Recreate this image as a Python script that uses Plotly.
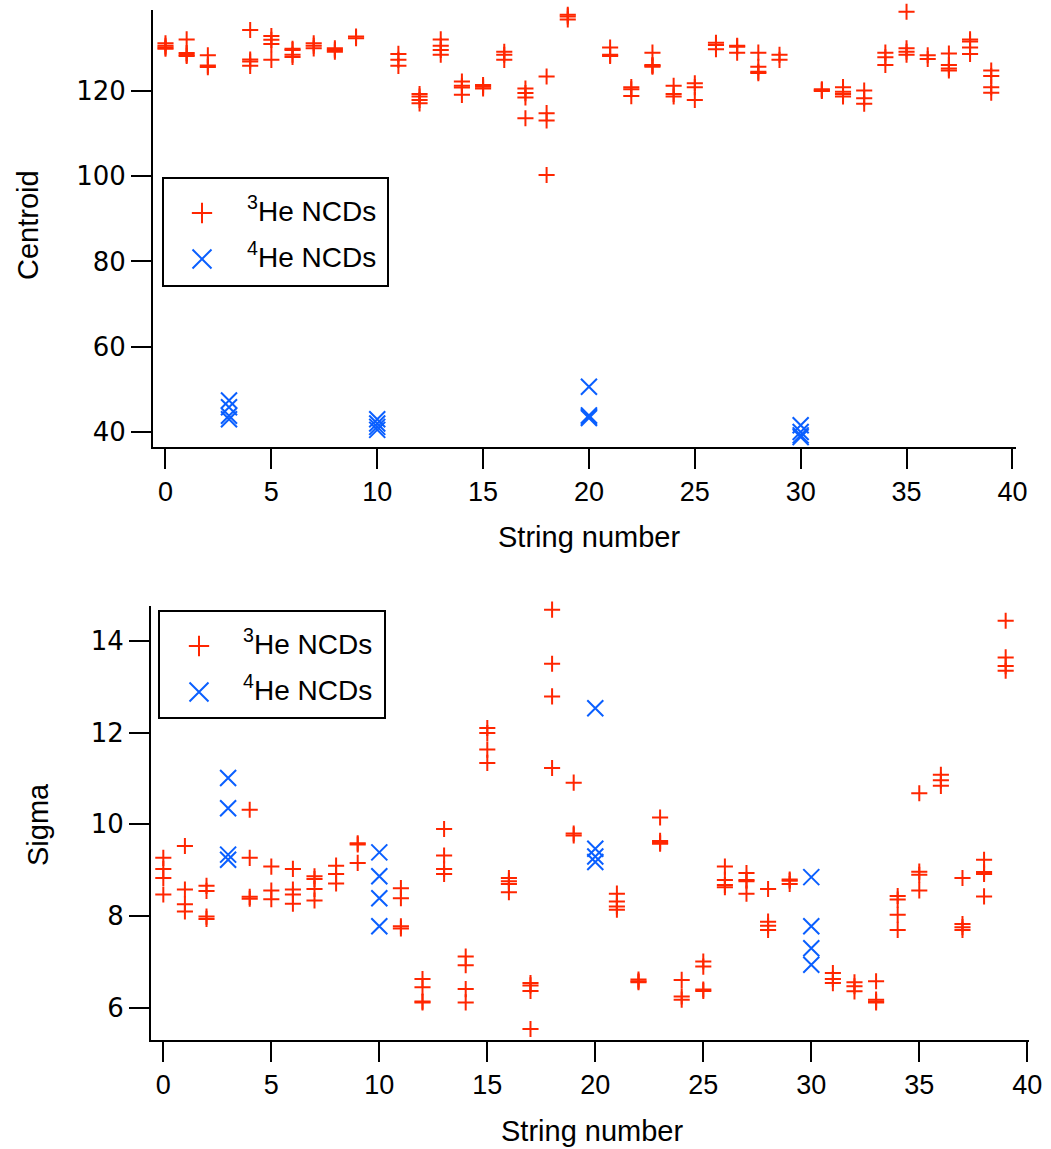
import plotly.graph_objects as go

W, H = 1051, 1149

# Strings that carry 4He counters (no 3He entries there)
he4_strings = [3, 10, 20, 30]

# Peak centroid per string, one value per counter (3He strings)
centroid_he3 = [
    [131.2, 130.6, 130.2, 129.9],
    [132.1, 128.9, 128.5, 128.2],
    [128.4, 126.0, 125.6],
    [],
    [134.3, 127.4, 126.9, 125.9],
    [132.9, 132.0, 131.0, 127.3],
    [129.9, 129.6, 128.5, 128.0],
    [131.2, 130.6, 130.0],
    [130.0, 129.6, 129.2],
    [132.8, 132.4],
    [],
    [128.7, 127.3, 125.9],
    [119.3, 118.7, 117.9, 117.1],
    [132.1, 130.6, 129.6, 128.5],
    [122.2, 121.2, 120.8, 119.1],
    [121.4, 121.0, 120.6],
    [129.2, 128.5, 127.3],
    [120.6, 119.5, 118.5, 113.6],
    [123.4, 114.8, 113.1, 100.3],
    [137.9, 137.5, 136.8],
    [],
    [130.2, 128.5, 128.2],
    [120.9, 120.4, 118.8],
    [129.0, 126.1, 125.9, 125.7],
    [121.2, 119.3, 118.7],
    [121.8, 120.9, 117.9],
    [131.3, 130.8, 129.8],
    [130.6, 130.4, 129.0],
    [129.0, 125.7, 124.5, 124.2],
    [128.5, 127.3],
    [],
    [120.4, 120.2, 120.0],
    [120.9, 119.8, 119.3, 118.7],
    [120.1, 118.3, 117.0],
    [129.0, 127.9, 126.1],
    [138.6, 130.0, 129.2, 128.5],
    [128.4, 127.5],
    [128.8, 126.1, 125.3, 124.8],
    [132.1, 131.6, 130.2, 128.7],
    [124.8, 123.5, 120.9, 119.6],
]

# Peak centroid for the 4He strings, same order as he4_strings
centroid_he4 = [
    [47.4, 45.8, 43.8, 43.0],
    [43.0, 42.0, 41.2, 40.5],
    [50.6, 43.9, 43.6, 43.3],
    [41.6, 40.0, 39.2, 38.8],
]

# Peak width per string, one value per counter (3He strings)
sigma_he3 = [
    [9.27, 9.03, 8.83, 8.47],
    [9.53, 8.58, 8.26, 8.10],
    [8.66, 8.55, 7.99, 7.94],
    [],
    [10.32, 9.27, 8.42, 8.38],
    [9.08, 8.56, 8.37],
    [9.03, 8.58, 8.47, 8.27],
    [8.87, 8.81, 8.59, 8.34],
    [9.10, 8.92, 8.71],
    [9.59, 9.56, 9.16],
    [],
    [8.61, 8.39, 7.78, 7.73],
    [6.63, 6.45, 6.14, 6.12],
    [9.90, 9.32, 9.03, 8.92],
    [7.12, 6.93, 6.41, 6.12],
    [12.10, 11.99, 11.63, 11.34],
    [8.83, 8.76, 8.70, 8.52],
    [6.54, 6.49, 6.37, 5.54],
    [14.68, 13.50, 12.79, 11.23],
    [10.91, 9.80, 9.76],
    [],
    [8.49, 8.32, 8.21, 8.14],
    [6.62, 6.58, 6.56],
    [10.15, 9.64, 9.60, 9.58],
    [6.61, 6.25, 6.18],
    [7.01, 6.90, 6.40, 6.37],
    [9.08, 8.79, 8.68, 8.63],
    [8.94, 8.79, 8.76, 8.49],
    [8.59, 7.88, 7.79, 7.70],
    [8.80, 8.77, 8.70],
    [],
    [6.76, 6.63, 6.54],
    [6.56, 6.47, 6.36],
    [6.58, 6.18, 6.14, 6.12],
    [8.44, 8.36, 8.03, 7.70],
    [10.68, 8.97, 8.90, 8.56],
    [11.08, 10.96, 10.84],
    [8.83, 7.83, 7.76, 7.70],
    [9.23, 8.96, 8.92, 8.43],
    [14.44, 13.64, 13.45, 13.35],
]

# Peak width for the 4He strings, same order as he4_strings
sigma_he4 = [
    [11.01, 10.35, 9.34, 9.23],
    [9.39, 8.87, 8.39, 7.78],
    [12.53, 9.47, 9.30, 9.18],
    [8.85, 7.78, 7.30, 6.94],
]

x_ticks = [0, 5, 10, 15, 20, 25, 30, 35, 40]
centroid_ticks = [40, 60, 80, 100, 120]
sigma_ticks = [6, 8, 10, 12, 14]

label_he3 = "<sup>3</sup>He NCDs"
label_he4 = "<sup>4</sup>He NCDs"

RED = "rgb(255,38,0)"
BLUE = "rgb(10,95,255)"
FONT = "Liberation Sans"


def flatten(strings, groups):
    xs, ys = [], []
    for s, vals in zip(strings, groups):
        for v in vals:
            xs.append(s)
            ys.append(v)
    return xs, ys


he3_strings = list(range(len(centroid_he3)))
cx3, cy3 = flatten(he3_strings, centroid_he3)
cx4, cy4 = flatten(he4_strings, centroid_he4)
sx3, sy3 = flatten(he3_strings, sigma_he3)
sx4, sy4 = flatten(he4_strings, sigma_he4)

fig = go.Figure()

plus = dict(symbol="cross-thin", size=11.5, color=RED, line=dict(color=RED, width=2))
cross = dict(symbol="x-thin", size=16, color=BLUE, line=dict(color=BLUE, width=2))
plus_key = dict(symbol="cross-thin", size=14.5, color=RED, line=dict(color=RED, width=2))
cross_key = dict(symbol="x-thin", size=19, color=BLUE, line=dict(color=BLUE, width=2))

# upper panel: centroid
fig.add_trace(go.Scatter(x=cx3, y=cy3, mode="markers", marker=plus, xaxis="x", yaxis="y",
                         name=label_he3, showlegend=False, cliponaxis=False))
fig.add_trace(go.Scatter(x=cx4, y=cy4, mode="markers", marker=cross, xaxis="x", yaxis="y",
                         name=label_he4, showlegend=False, cliponaxis=False))
# lower panel: sigma
fig.add_trace(go.Scatter(x=sx3, y=sy3, mode="markers", marker=plus, xaxis="x2", yaxis="y2",
                         name=label_he3, showlegend=False, cliponaxis=False))
fig.add_trace(go.Scatter(x=sx4, y=sy4, mode="markers", marker=cross, xaxis="x2", yaxis="y2",
                         name=label_he4, showlegend=False, cliponaxis=False))


def px_x(p):
    return p / W


def px_y(p):
    return 1 - p / H


# Key boxes, drawn on a page-sized pixel overlay: (left, top, right, bottom)
key_boxes = [(163, 178, 388, 286), (159, 611, 385, 718)]
key_rows = [(213, 259), (646, 692)]
key_sym_x = [202, 199]
key_text_x = [245, 241]

for (l, t, r, b), rows, sx, tx in zip(key_boxes, key_rows, key_sym_x, key_text_x):
    fig.add_shape(type="rect", xref="paper", yref="paper", x0=px_x(l), x1=px_x(r),
                  y0=px_y(b), y1=px_y(t), line=dict(color="black", width=2),
                  fillcolor="rgba(0,0,0,0)", layer="above")
    fig.add_trace(go.Scatter(x=[sx], y=[rows[0]], mode="markers", marker=plus_key,
                             xaxis="x3", yaxis="y3", showlegend=False, hoverinfo="skip"))
    fig.add_trace(go.Scatter(x=[sx], y=[rows[1]], mode="markers", marker=cross_key,
                             xaxis="x3", yaxis="y3", showlegend=False, hoverinfo="skip"))
    for row, lab in zip(rows, (label_he3, label_he4)):
        fig.add_annotation(text=lab, x=px_x(tx), y=px_y(row - 4), xref="paper", yref="paper",
                           xanchor="left", yanchor="middle", showarrow=False,
                           font=dict(family=FONT, size=28, color="black"))

tick_font = dict(family="DejaVu Sans", size=26, color="black")
xtick_font = dict(family=FONT, size=27, color="black")

axis_common = dict(showline=True, linecolor="black", linewidth=2, ticks="outside",
                   ticklen=20, tickwidth=2, tickcolor="black", showgrid=False,
                   zeroline=False, mirror=False, automargin=False)

title_font = dict(family=FONT, size=29, color="black")

fig.update_layout(
    width=W, height=H,
    margin=dict(l=0, r=0, t=0, b=0),
    paper_bgcolor="white", plot_bgcolor="rgba(0,0,0,0)",
    showlegend=False,
    xaxis=dict(domain=[px_x(153), px_x(1016)], range=[-0.59, 40.17], anchor="y",
               tickvals=x_ticks, tickfont=xtick_font, **axis_common),
    yaxis=dict(domain=[px_y(447), px_y(10)], range=[36.48, 139.0], anchor="x",
               tickvals=centroid_ticks, tickfont=tick_font, **axis_common),
    xaxis2=dict(domain=[px_x(151), px_x(1029)], range=[-0.57, 40.08], anchor="y2",
                tickvals=x_ticks, tickfont=xtick_font, **axis_common),
    yaxis2=dict(domain=[px_y(1040), px_y(606)], range=[5.30, 14.76], anchor="x2",
                tickvals=sigma_ticks, tickfont=tick_font, **axis_common),
    # pixel overlay used for the key symbols
    xaxis3=dict(domain=[0, 1], range=[0, W], anchor="y3", visible=False, fixedrange=True),
    yaxis3=dict(domain=[0, 1], range=[H, 0], anchor="x3", visible=False, fixedrange=True),
)

# axis titles, centred on the given pixel positions
for text, x, y, ang in (("Centroid", 28, 225, -90), ("String number", 589, 537, 0),
                        ("Sigma", 38, 825, -90), ("String number", 592, 1131, 0)):
    fig.add_annotation(text=text, x=px_x(x), y=px_y(y), xref="paper", yref="paper",
                       xanchor="center", yanchor="middle",
                       textangle=ang, showarrow=False, font=title_font)

# page without body margin so the figure fills the window exactly
fig.write_html(
    "out.html",
    post_script=(
        "document.body.style.margin='0px';"
        "document.documentElement.style.overflow='hidden';"
        "Plotly.Plots.resize(document.getElementById('{plot_id}'));"
    ),
)
